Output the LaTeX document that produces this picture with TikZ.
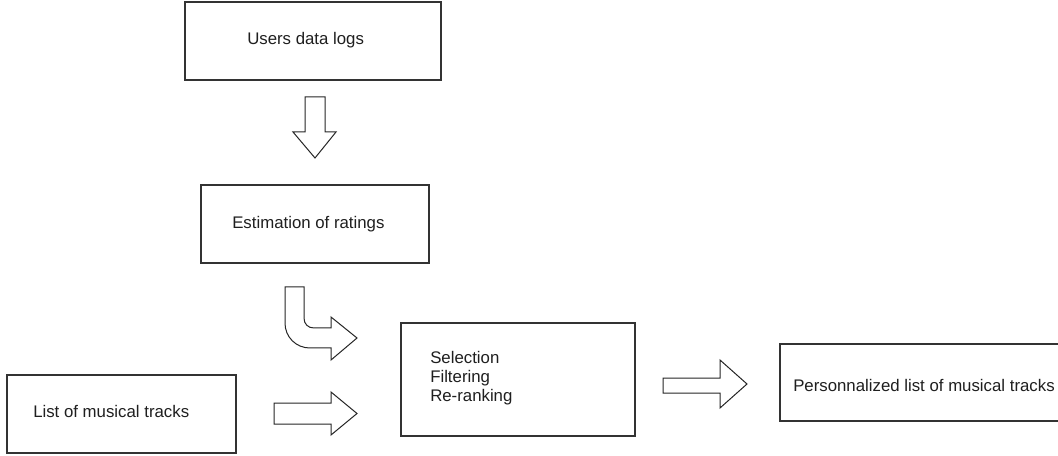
\documentclass[tikz,border=0pt]{standalone}
\usepackage{fontspec}
\setmainfont{Liberation Sans}
\usetikzlibrary{fit}
\begin{document}
\begin{tikzpicture}[x=0.75pt,y=-0.75pt,
  box/.style={draw=black!80, line width=0.8pt, inner sep=0pt},
  lbl/.style={anchor=base west, inner sep=0pt, font=\fontsize{12.6pt}{14.25pt}\selectfont, text=black!88},
  blockarrow/.style={draw=black!85, line width=0.75pt, fill=white, line join=miter}]
\useasboundingbox (0,0) rectangle (1058,456);
\clip (0,0) rectangle (1058,456);
\fill[white] (0,0) rectangle (1058,456);

% boxes
\node[box, fit={(185,2) (441,80)}] (users) {};
\node[box, fit={(201,185) (429,263)}] (est) {};
\node[box, fit={(401,323) (635,436)}] (sel) {};
\node[box, fit={(780,344) (1062,421)}] (pers) {};
\node[box, fit={(7,375) (236,453)}] (list) {};

% texts
\node[lbl] (tusers) at (247,45) {Users data logs};
\node[lbl] (test) at (232,229) {Estimation of ratings};
\node[lbl, align=left, anchor=north west] (tsel) at (430,351) {Selection\\Filtering\\Re-ranking};
\node[lbl] (tlist) at (33,417) {List of musical tracks};
\node[lbl] (tpers) at (793,392) {Personnalized list of musical tracks};

% block arrows
\draw[blockarrow] (305,97) -- (325,97) -- (325,132) -- (336,132) -- (315,158) -- (293,132) -- (305,132) -- cycle;

\draw[blockarrow] (285,287) -- (304,287) -- (304,318)
  .. controls (304,324) and (308,328) .. (314,328)
  -- (331,328) -- (331,317) -- (357,338) -- (331,360) -- (331,348) -- (310,348)
  .. controls (296,348) and (285,337) .. (285,323) -- cycle;

\draw[blockarrow] (274,403) -- (331,403) -- (331,392) -- (357,413.5) -- (331,435) -- (331,424) -- (274,424) -- cycle;

\draw[blockarrow] (663,378) -- (720,378) -- (720,360) -- (747,384) -- (720,408) -- (720,393) -- (663,393) -- cycle;
\end{tikzpicture}
\end{document}
